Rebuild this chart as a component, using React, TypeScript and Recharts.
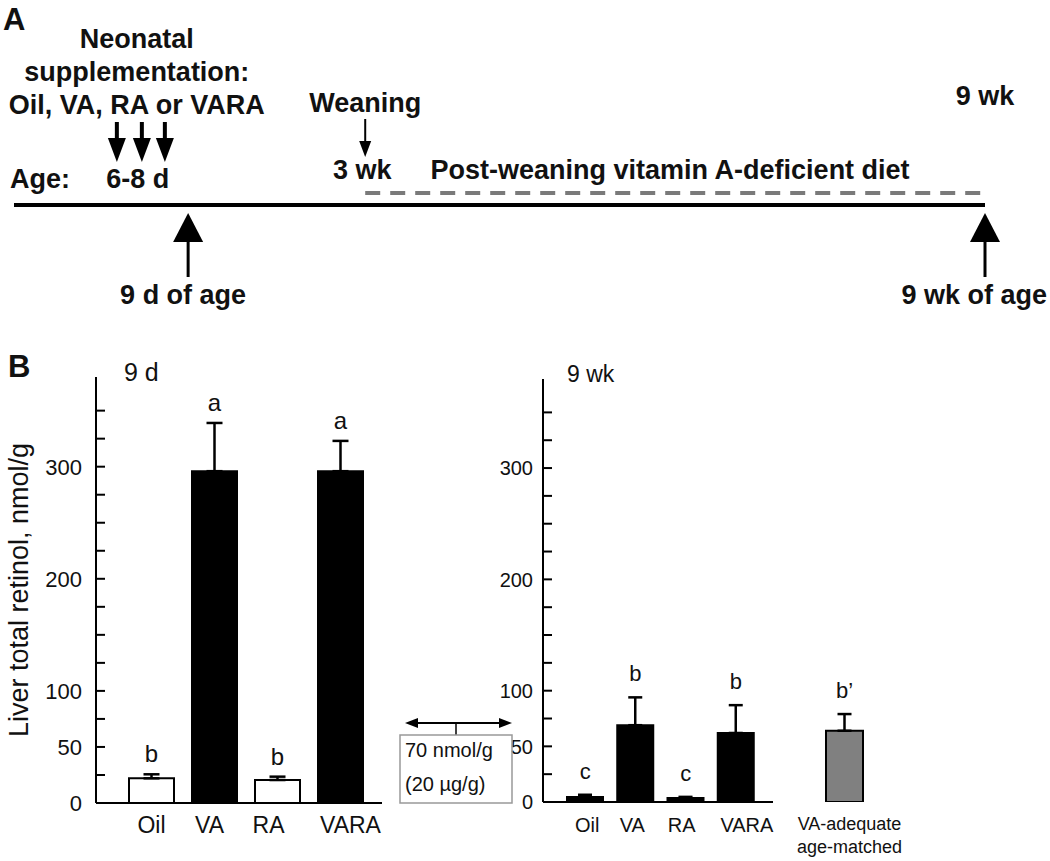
import React from "react";
import {
  ComposedChart, Line, XAxis, YAxis, ReferenceDot, Bar, Cell, ErrorBar, Scatter,
} from "recharts";

const FONT = '"Liberation Sans", Arial, Helvetica, sans-serif';
const BOLD = { fontFamily: FONT, fontWeight: 700, fontSize: 27, fill: "#111" } as const;

// ---- panel A: study timeline, x = days of age
const TIMELINE = [{ day: -2.8, lane: 0 }, { day: 63, lane: 0 }];
const DIET = [{ day: 21, lane: 12 }, { day: 63, lane: 12 }];
const SUPPLEMENT_DAY = 6;
const SUPPLEMENT_LINES = ["Neonatal", "supplementation:", "Oil, VA, RA or VARA"];
const WEANING_DAY = 21;
const SAMPLE_DAYS = [9, 63];
const SAMPLE_LABELS = ["9 d of age", "9 wk of age"];
const DIET_LABEL = "Post-weaning vitamin A-deficient diet";

// ---- panel B: liver total retinol (nmol/g), mean and SD
const GROUPS = ["Oil", "VA", "RA", "VARA"];
const D9_MEAN = [22, 296, 20.5, 296];
const D9_SD = [3.6, 43, 3, 27];
const D9_LETTERS = ["b", "a", "b", "a"];
const WK9_MEAN = [4.5, 69, 3.6, 62];
const WK9_SD = [2, 25, 1, 25];
const WK9_LETTERS = ["c", "b", "c", "b"];
const ADEQ_GROUP = ["VA-adequate age-matched"];
const ADEQ_MEAN = [64];
const ADEQ_SD = [15];
const ADEQ_LETTERS = ["b’"];
const Y_TICKS = [0, 25, 50, 75, 100, 125, 150, 175, 200, 225, 250, 275, 300, 325, 350];
const Y_LABELLED = [0, 50, 100, 200, 300];
const Y_MAX = 380;

const D9_FILL = ["#fff", "#000", "#fff", "#000"];
const WK9_FILL = ["#000", "#000", "#000", "#000"];
const LEFT_NUDGE: Record<string, number> = { VA: -5, RA: -9, VARA: 10 };
const RIGHT_NUDGE: Record<string, number> = { Oil: 2, VA: -3, RA: -4, VARA: 11 };

const build = (names: string[], mean: number[], sd: number[], letters: string[]) =>
  names.map((g, i) => ({ group: g, mean: mean[i], err: [0, sd[i]], cap: mean[i] + sd[i], letter: letters[i] }));

const d9Data = build(GROUPS, D9_MEAN, D9_SD, D9_LETTERS);
const wk9Data = build(GROUPS, WK9_MEAN, WK9_SD, WK9_LETTERS);
const adeqData = build(ADEQ_GROUP, ADEQ_MEAN, ADEQ_SD, ADEQ_LETTERS);

function Arrow({ x, from, to, shaft, headW, headL }: any) {
  const dir = to > from ? 1 : -1;
  const base = to - dir * headL;
  return (
    <g>
      <line x1={x} x2={x} y1={from} y2={base} stroke="#000" strokeWidth={shaft} />
      <polygon points={`${x - headW / 2},${base} ${x + headW / 2},${base} ${x},${to}`} fill="#000" />
    </g>
  );
}

// inward minor ticks every 25, numbers only on the labelled ones
const valueTick = (size: number, gap: number) => (p: any) => {
  const v = p.payload.value;
  const x = Number(p.x);
  const y = Number(p.y);
  return (
    <g>
      <line x1={x} x2={x + 9} y1={y} y2={y} stroke="#000" strokeWidth={2} />
      {Y_LABELLED.includes(v) ? (
        <text x={x - gap} y={y + size * 0.36} textAnchor="end" fill="#111" fontFamily={FONT} fontSize={size}
          style={{ fontSize: `${size}px` }}>
          {String(v)}
        </text>
      ) : null}
    </g>
  );
};

const groupTick = (size: number, nudge: Record<string, number>) => (p: any) => (
  <text x={p.x + (nudge[p.payload.value] ?? 0)} y={p.y + 30} textAnchor="middle" fill="#111"
    fontFamily={FONT} fontSize={size}>
    {p.payload.value}
  </text>
);

const twoLineTick = (p: any) => {
  const [a, b] = String(p.payload.value).split(" ");
  return (
    <g fill="#111" fontFamily={FONT} fontSize={18}>
      <text x={p.x + 5} y={p.y + 28} textAnchor="middle">{a}</text>
      <text x={p.x + 5} y={p.y + 51} textAnchor="middle">{b}</text>
    </g>
  );
};

const letterShape = (size: number, lift: number) => (p: any) => (
  <text x={p.cx} y={p.cy - lift} textAnchor="middle" fill="#111" fontFamily={FONT} fontSize={size}>
    {p.payload.letter}
  </text>
);

function Timeline() {
  return (
    <ComposedChart width={1050} height={330} margin={{ top: 80, right: 65, bottom: 0, left: 14 }}>
      <XAxis type="number" dataKey="day" domain={[-2.8, 63]} hide allowDataOverflow />
      <YAxis type="number" domain={[-125, 125]} hide allowDataOverflow />
      <Line data={DIET} dataKey="lane" stroke="#7a7a7a" strokeWidth={4} strokeDasharray="15 10" dot={false} isAnimationActive={false} />
      <Line data={TIMELINE} dataKey="lane" stroke="#000" strokeWidth={4} dot={false} isAnimationActive={false} />
      <ReferenceDot x={TIMELINE[0].day} y={0} shape={(p: any) => (
        <text x={p.cx - 4} y={p.cy - 17} {...BOLD}>Age:</text>
      )} />
      <ReferenceDot x={SUPPLEMENT_DAY} y={0} shape={(p: any) => (
        <g>
          {SUPPLEMENT_LINES.map((t, i) => (
            <text key={t} x={p.cx - 7} y={p.cy - 157 + i * 33} textAnchor="middle" {...BOLD}>{t}</text>
          ))}
          {[-27, -2, 21].map((dx) => (
            <Arrow key={dx} x={p.cx + dx} from={p.cy - 83} to={p.cy - 43} shaft={4} headW={18} headL={24} />
          ))}
          <text x={p.cx - 6} y={p.cy - 17} textAnchor="middle" {...BOLD}>6-8 d</text>
        </g>
      )} />
      <ReferenceDot x={WEANING_DAY} y={0} shape={(p: any) => (
        <g>
          <text x={p.cx} y={p.cy - 93} textAnchor="middle" {...BOLD}>Weaning</text>
          <Arrow x={p.cx} from={p.cy - 86} to={p.cy - 48} shaft={2} headW={12} headL={16} />
          <text x={p.cx - 3} y={p.cy - 26} textAnchor="middle" {...BOLD}>3 wk</text>
        </g>
      )} />
      <ReferenceDot x={(DIET[0].day + DIET[1].day) / 2} y={0} shape={(p: any) => (
        <text x={p.cx - 5} y={p.cy - 26} textAnchor="middle" {...BOLD}>{DIET_LABEL}</text>
      )} />
      {SAMPLE_DAYS.map((d, i) => (
        <ReferenceDot key={d} x={d} y={0} shape={(p: any) => {
          const last = i === SAMPLE_DAYS.length - 1;
          return (
            <g>
              <Arrow x={p.cx} from={p.cy + 72} to={p.cy + 8} shaft={3} headW={30} headL={29} />
              <text x={last ? p.cx + 62 : p.cx - 5} y={p.cy + 99} textAnchor={last ? "end" : "middle"} {...BOLD}>
                {SAMPLE_LABELS[i]}
              </text>
              {last && <text x={p.cx} y={p.cy - 100} textAnchor="middle" {...BOLD}>9 wk</text>}
            </g>
          );
        }} />
      ))}
    </ComposedChart>
  );
}

const AXIS_LINE = { stroke: "#000", strokeWidth: 2 };

export default function App() {
  return (
    <div style={{ position: "absolute", left: 0, top: 0, width: 1050, height: 861, background: "#fff", overflow: "hidden", fontFamily: FONT }}>
      <div style={{ position: "absolute", left: 0, top: 0 }}>
        <Timeline />
      </div>

      {/* 9 d */}
      <div style={{ position: "absolute", left: 0, top: 340 }}>
        <ComposedChart width={400} height={520} data={d9Data} margin={{ top: 37, right: 18, left: 0, bottom: 0 }} barSize={45}>
          <XAxis dataKey="group" height={57} padding={{ left: 24, right: 10 }} axisLine={AXIS_LINE} tickLine={false}
            tickSize={0} tickMargin={0} interval={0} tick={groupTick(23, LEFT_NUDGE)} />
          <YAxis width={96} domain={[0, Y_MAX]} ticks={Y_TICKS} interval={0} allowDataOverflow axisLine={AXIS_LINE}
            tickLine={false} tickSize={0} tickMargin={0} tick={valueTick(22, 14)}
            label={{ value: "Liver total retinol, nmol/g", angle: -90, position: "insideLeft", offset: 18,
              style: { textAnchor: "middle", fontSize: 27, fill: "#111", fontFamily: FONT } }} />
          <Bar dataKey="mean" stroke="#000" strokeWidth={2} isAnimationActive={false}>
            {d9Data.map((d, i) => <Cell key={d.group} fill={D9_FILL[i]} />)}
            <ErrorBar dataKey="err" width={8} stroke="#000" strokeWidth={2.5} direction="y" />
          </Bar>
          <Scatter dataKey="cap" shape={letterShape(24, 12)} isAnimationActive={false} />
        </ComposedChart>
      </div>

      {/* 9 wk */}
      <div style={{ position: "absolute", left: 440, top: 340 }}>
        <ComposedChart width={340} height={520} data={wk9Data} margin={{ top: 39, right: 7, left: 0, bottom: 0 }} barSize={36}>
          <XAxis dataKey="group" height={58} padding={{ left: 17, right: 12 }} axisLine={AXIS_LINE} tickLine={false}
            tickSize={0} tickMargin={0} interval={0} tick={groupTick(20, RIGHT_NUDGE)} />
          <YAxis width={103} domain={[0, Y_MAX]} ticks={Y_TICKS} interval={0} allowDataOverflow axisLine={AXIS_LINE}
            tickLine={false} tickSize={0} tickMargin={0} tick={valueTick(20, 10)} />
          <Bar dataKey="mean" stroke="#000" strokeWidth={2} isAnimationActive={false}>
            {wk9Data.map((d, i) => <Cell key={d.group} fill={WK9_FILL[i]} />)}
            <ErrorBar dataKey="err" width={7} stroke="#000" strokeWidth={2.5} direction="y" />
          </Bar>
          <Scatter dataKey="cap" shape={letterShape(22, 16)} isAnimationActive={false} />
        </ComposedChart>
      </div>

      {/* VA-adequate reference */}
      <div style={{ position: "absolute", left: 780, top: 340 }}>
        <ComposedChart width={140} height={520} data={adeqData} margin={{ top: 39, right: 31, left: 20, bottom: 0 }} barSize={37}>
          <XAxis dataKey="group" height={58} axisLine={false} tickLine={false} tickSize={0} tickMargin={0} interval={0}
            tick={twoLineTick} />
          <YAxis hide domain={[0, Y_MAX]} allowDataOverflow />
          <Bar dataKey="mean" fill="#808080" stroke="#000" strokeWidth={2} isAnimationActive={false}>
            <ErrorBar dataKey="err" width={7} stroke="#000" strokeWidth={2.5} direction="y" />
          </Bar>
          <Scatter dataKey="cap" shape={letterShape(22, 16)} isAnimationActive={false} />
        </ComposedChart>
      </div>

      <svg width={1050} height={861} style={{ position: "absolute", left: 0, top: 0, pointerEvents: "none" }}>
        <text x={3} y={30} fontFamily={FONT} fontWeight={700} fontSize={31} fill="#111">A</text>
        <text x={8} y={377} fontFamily={FONT} fontWeight={700} fontSize={31} fill="#111">B</text>
        <text x={124} y={381} fontFamily={FONT} fontSize={25} fill="#111">9 d</text>
        <text x={567} y={382} fontFamily={FONT} fontSize={23} fill="#111">9 wk</text>
        <line x1={414} x2={503} y1={723} y2={723} stroke="#000" strokeWidth={2} />
        <polygon points="405,723 418,718 418,728" fill="#000" />
        <polygon points="512,723 499,718 499,728" fill="#000" />
        <line x1={456} x2={456} y1={723} y2={735} stroke="#000" strokeWidth={1.5} />
        <rect x={400} y={735} width={112} height={68} fill="none" stroke="#999" strokeWidth={1.5} />
        <text x={405} y={757} fontFamily={FONT} fontSize={20} fill="#111">70 nmol/g</text>
        <text x={405} y={791} fontFamily={FONT} fontSize={20} fill="#111">(20 µg/g)</text>
      </svg>
    </div>
  );
}
